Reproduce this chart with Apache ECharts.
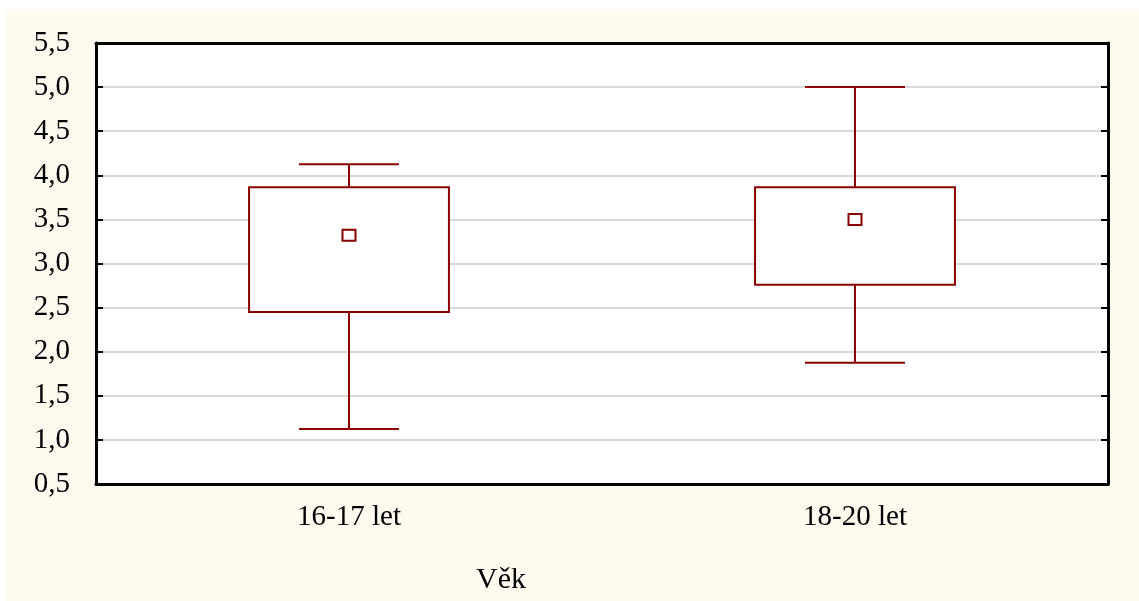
<!DOCTYPE html>
<html>
<head>
<meta charset="utf-8">
<script src="https://cdn.jsdelivr.net/npm/echarts@6/dist/echarts.min.js"></script>
<style>
  html, body { margin: 0; padding: 0; background: #ffffff; }
  #frame { position: absolute; left: 6px; top: 9px; width: 1133px; height: 592px; background: #FFFAF0; }
  #boxChart { width: 100%; height: 100%; }
</style>
</head>
<body>
<div id="frame"><div id="boxChart"></div></div>
<script>
  // data
  const categories = ['16-17 let', '18-20 let'];
  const whiskerLow = [1.125, 1.875];
  const boxLow = [2.45, 2.76];
  const boxHigh = [3.865, 3.865];
  const whiskerHigh = [4.125, 5.0];
  const means = [3.32, 3.5];
  const axisName = 'Věk';

  const DARK_RED = '#8B0000';
  const FONT = 'Liberation Serif';

  document.addEventListener('DOMContentLoaded', function () {
    const myChart = echarts.init(document.getElementById('boxChart'));

    const seriesData = categories.map((c, i) =>
      [i, whiskerLow[i], boxLow[i], boxHigh[i], whiskerHigh[i], means[i]]);

    function renderBox(params, api) {
      const idx = api.value(0);
      const band = api.size([1, 0])[0];
      const boxW = band * 0.395;
      const capW = boxW / 2;
      const pLow = api.coord([idx, api.value(1)]);
      const pQ1 = api.coord([idx, api.value(2)]);
      const pQ3 = api.coord([idx, api.value(3)]);
      const pHigh = api.coord([idx, api.value(4)]);
      const pMean = api.coord([idx, api.value(5)]);
      const x = pQ1[0];
      const lineStyle = { stroke: DARK_RED, lineWidth: 2, fill: null };
      return {
        type: 'group',
        children: [
          { type: 'line', shape: { x1: x, y1: pLow[1], x2: x, y2: pQ1[1] }, style: lineStyle },
          { type: 'line', shape: { x1: x, y1: pQ3[1], x2: x, y2: pHigh[1] }, style: lineStyle },
          { type: 'line', shape: { x1: x - capW / 2, y1: pLow[1], x2: x + capW / 2, y2: pLow[1] }, style: lineStyle },
          { type: 'line', shape: { x1: x - capW / 2, y1: pHigh[1], x2: x + capW / 2, y2: pHigh[1] }, style: lineStyle },
          { type: 'rect', shape: { x: x - boxW / 2, y: pQ3[1], width: boxW, height: pQ1[1] - pQ3[1] },
            style: { stroke: DARK_RED, lineWidth: 2, fill: '#ffffff' } },
          { type: 'rect', shape: { x: x - 6.5, y: pMean[1] - 5.5, width: 13, height: 11 },
            style: { stroke: DARK_RED, lineWidth: 2, fill: '#ffffff' } }
        ]
      };
    }

    const option = {
      backgroundColor: '#FFFAF0',
      animation: false,
      title: {
        text: axisName,
        left: 465,
        top: 551,
        textStyle: { fontFamily: FONT, fontSize: 30, fontWeight: 'normal', color: '#000' }
      },
      grid: {
        left: 90,
        right: 31,
        top: 34,
        bottom: 117,
        show: true,
        backgroundColor: '#ffffff',
        borderWidth: 0
      },
      xAxis: [
        {
          type: 'category',
          data: categories,
          boundaryGap: true,
          axisLine: { lineStyle: { color: '#000', width: 3 } },
          axisTick: { inside: true, length: 5, alignWithLabel: true, lineStyle: { color: '#000', width: 2 } },
          axisLabel: { fontFamily: FONT, fontSize: 29, color: '#000', margin: 19 },
          splitLine: { show: false }
        },
        {
          type: 'category',
          data: categories,
          position: 'top',
          axisLine: { show: true, lineStyle: { color: '#000', width: 3 } },
          axisTick: { show: false },
          axisLabel: { show: false },
          splitLine: { show: false }
        }
      ],
      yAxis: [
        {
          type: 'value',
          min: 0.5,
          max: 5.5,
          interval: 0.5,
          axisLine: { show: true, lineStyle: { color: '#000', width: 3 } },
          axisTick: { show: true, inside: true, length: 7, lineStyle: { color: '#000', width: 2 } },
          axisLabel: {
            fontFamily: FONT, fontSize: 29, color: '#000', margin: 26,
            formatter: v => v.toFixed(1).replace('.', ',')
          },
          splitLine: { showMaxLine: false, showMinLine: false, lineStyle: { color: '#D9D9D9', width: 2 } }
        },
        {
          type: 'value',
          position: 'right',
          min: 0.5,
          max: 5.5,
          interval: 0.5,
          axisLine: { show: true, lineStyle: { color: '#000', width: 3 } },
          axisTick: { show: true, inside: true, length: 7, lineStyle: { color: '#000', width: 2 } },
          axisLabel: { show: false },
          splitLine: { show: false }
        }
      ],
      series: [
        {
          type: 'custom',
          renderItem: renderBox,
          encode: { x: 0, y: [1, 2, 3, 4, 5] },
          data: seriesData
        }
      ]
    };

    myChart.setOption(option);
    window.addEventListener('resize', () => { myChart.resize(); });
  });
</script>
</body>
</html>
